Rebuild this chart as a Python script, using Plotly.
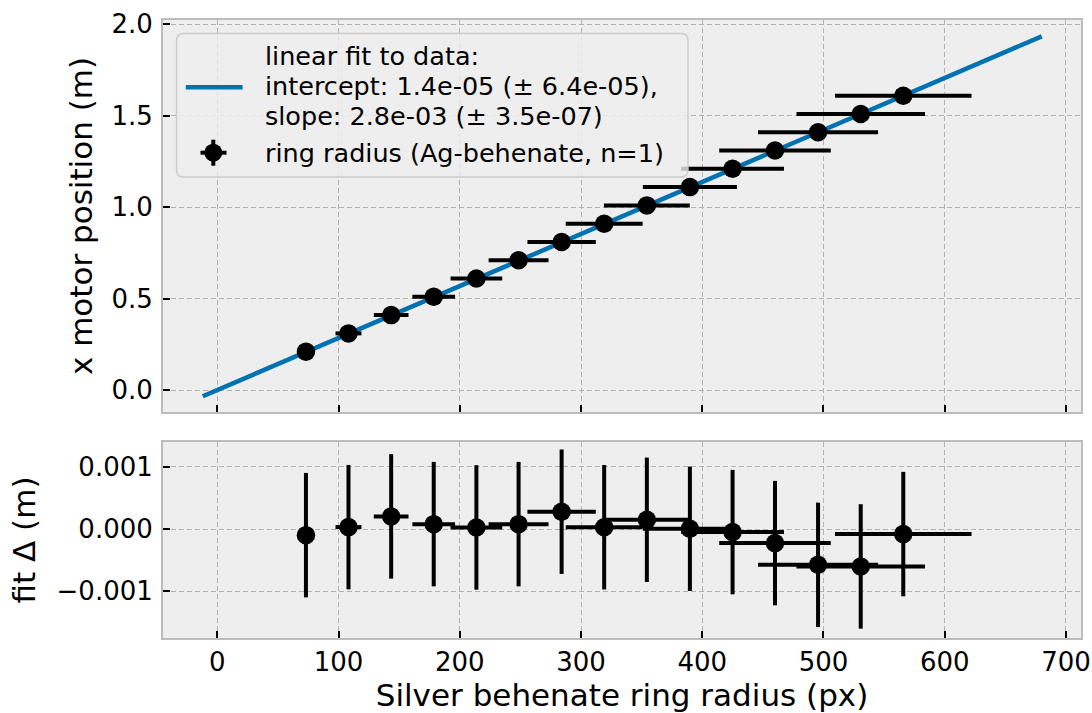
import plotly.graph_objects as go

# ---------------- data ----------------
radius_px = [73.1, 108.2, 143.4, 178.5, 213.7, 248.5, 284.0, 319.1, 354.3,
             389.8, 425.0, 460.0, 495.5, 530.7, 565.8]
radius_err = [7.3, 10.7, 14.3, 17.6, 21.3, 24.7, 28.2, 31.7, 35.4,
              38.8, 42.4, 46.0, 49.5, 53.0, 56.3]
motor_pos = [0.21, 0.31, 0.41, 0.51, 0.61, 0.71, 0.81, 0.91, 1.01,
             1.11, 1.21, 1.31, 1.41, 1.51, 1.61]
motor_err = [0.001] * 15
fit_resid = [-0.000097, 0.000032, 0.000204, 0.00008, 0.000027, 0.00008,
             0.00028, 0.00003, 0.00015, 0.000005, -0.000048, -0.000225,
             -0.000574, -0.0006, -0.00008]
fit_intercept = 1.4e-05
fit_slope = 0.002845
fit_x = [-12, 680]
x_ticks = [0, 100, 200, 300, 400, 500, 600, 700]
y_ticks_top = [0.0, 0.5, 1.0, 1.5, 2.0]
y_ticks_bot = [-0.001, 0.0, 0.001]

fit_label = ["linear fit to data:", "intercept: 1.4e-05 (± 6.4e-05),",
             "slope: 2.8e-03 (± 3.5e-07)"]
pts_label = "ring radius (Ag-behenate, n=1)"

# ---------------- geometry ----------------
W, H = 1092, 713
L, R, T, B = 163, 11, 20, 75
PW, PH = W - L - R, H - T - B


def pxx(x):
    return (x - L) / PW


def pxy(y):
    return (H - B - y) / PH


FONT = "DejaVu Sans"
BLUE = "#0072B2"
fit_y = [fit_intercept + fit_slope * v for v in fit_x]

fig = go.Figure()
fig.add_trace(go.Scatter(x=fit_x, y=fit_y, mode="lines",
                         line=dict(color=BLUE, width=4.5), xaxis="x", yaxis="y",
                         showlegend=False))
err_style = dict(type="data", thickness=4, width=0, color="black")
fig.add_trace(go.Scatter(x=radius_px, y=motor_pos, mode="markers",
                         marker=dict(color="black", size=18.5),
                         error_x=dict(array=radius_err, **err_style),
                         error_y=dict(array=motor_err, **err_style),
                         xaxis="x", yaxis="y", showlegend=False))
fig.add_trace(go.Scatter(x=radius_px, y=fit_resid, mode="markers",
                         marker=dict(color="black", size=18.5),
                         error_x=dict(array=radius_err, **err_style),
                         error_y=dict(array=motor_err, **err_style),
                         xaxis="x2", yaxis="y2", showlegend=False))

axis_common = dict(
    automargin=False,
    showline=True, linecolor="#bcbcbc", linewidth=2, mirror=True,
    ticks="inside", ticklen=7, tickwidth=2, tickcolor="black",
    showgrid=True, gridcolor="#b2b2b2", gridwidth=1, griddash="5px,3px",
    zeroline=False, tickfont=dict(family=FONT, size=26, color="black"),
)
xr = [-44.8, 712.4]
fig.update_layout(
    width=W, height=H,
    margin=dict(l=L, r=R, t=T, b=B),
    paper_bgcolor="white", plot_bgcolor="#eeeeee",
    font=dict(family=FONT, color="black"),
    showlegend=False,
    xaxis=dict(domain=[0, 1], anchor="y", range=xr, tickvals=x_ticks,
               showticklabels=False, matches="x2", **axis_common),
    xaxis2=dict(domain=[0, 1], anchor="y2", range=xr, tickvals=x_ticks,
                ticklabelstandoff=0,
                title=dict(text="Silver behenate ring radius (px)",
                           font=dict(family=FONT, size=31, color="black"),
                           standoff=6),
                **axis_common),
    yaxis=dict(domain=[pxy(412), 1], anchor="x", range=[-0.12, 2.024],
               tickvals=y_ticks_top, tickformat=".1f", ticklabelstandoff=3,
               title=dict(text="x motor position (m)",
                          font=dict(family=FONT, size=31, color="black"),
                          standoff=10),
               **axis_common),
    yaxis2=dict(domain=[0, pxy(442)], anchor="x2", range=[-0.00175, 0.0014],
                tickvals=y_ticks_bot, tickformat=".3f", ticklabelstandoff=3,
                title=dict(text="fit Δ (m)",
                           font=dict(family=FONT, size=31, color="black"),
                           standoff=12),
                **axis_common),
)

# ---------------- legend (drawn manually to match matplotlib) ----------------
bx0, bx1, by0, by1, rad = 176.5, 688, 33.5, 177, 7


def rounded_path(x0, y0, x1, y1, r):
    pts = [
        ("M", (x0 + r, y0)), ("L", (x1 - r, y0)), ("Q", (x1, y0), (x1, y0 + r)),
        ("L", (x1, y1 - r)), ("Q", (x1, y1), (x1 - r, y1)),
        ("L", (x0 + r, y1)), ("Q", (x0, y1), (x0, y1 - r)),
        ("L", (x0, y0 + r)), ("Q", (x0, y0), (x0 + r, y0)),
    ]
    s = ""
    for item in pts:
        cmd = item[0]
        coords = " ".join(f"{pxx(a):.5f},{pxy(b):.5f}" for a, b in item[1:])
        s += f"{cmd} {coords} "
    return s + "Z"


shapes = [
    dict(type="path", xref="paper", yref="paper",
         path=rounded_path(bx0, by0, bx1, by1, rad),
         fillcolor="rgba(238,238,238,0.8)",
         line=dict(color="rgba(200,200,200,0.9)", width=1.5), layer="above"),
    dict(type="line", xref="paper", yref="paper",
         x0=pxx(185.8), x1=pxx(242.6), y0=pxy(87.3), y1=pxy(87.3),
         line=dict(color=BLUE, width=4.5), layer="above"),
    dict(type="line", xref="paper", yref="paper",
         x0=pxx(200.5), x1=pxx(226.5), y0=pxy(152.7), y1=pxy(152.7),
         line=dict(color="black", width=4), layer="above"),
    dict(type="line", xref="paper", yref="paper",
         x0=pxx(213.3), x1=pxx(213.3), y0=pxy(139.7), y1=pxy(165.7),
         line=dict(color="black", width=4), layer="above"),
    dict(type="circle", xref="paper", yref="paper",
         x0=pxx(213.3 - 9), x1=pxx(213.3 + 9), y0=pxy(152.7 - 9), y1=pxy(152.7 + 9),
         fillcolor="black", line=dict(color="black", width=0), layer="above"),
]
fig.update_layout(shapes=shapes)

annotations = []
for txt, yc in zip(fit_label + [pts_label], [56.0, 86.0, 116.0, 152.7]):
    annotations.append(dict(text=txt, xref="paper", yref="paper",
                            x=pxx(262.5), y=pxy(yc), xanchor="left",
                            yanchor="middle", showarrow=False,
                            font=dict(family=FONT, size=25.5, color="black")))
fig.update_layout(annotations=annotations)

fig.write_html("out.html")
